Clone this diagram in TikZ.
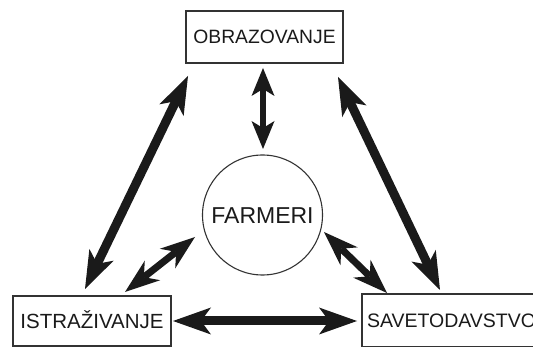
\documentclass[tikz,border=0pt]{standalone}
\usepackage{fontspec}
\setmainfont{Liberation Sans}
\usetikzlibrary{arrows.meta}
\definecolor{ink}{HTML}{1A1A1A}
\definecolor{edge}{HTML}{333333}
\tikzset{
  box/.style={draw=edge, line width=1.3pt, rectangle, inner sep=0pt, outer sep=0pt, text=ink},
  ring/.style={draw=edge, line width=1.1pt, circle, inner sep=0pt, outer sep=0pt, minimum size=120pt, text=ink},
  bigtip/.tip={Stealth[length=38pt,width=27pt,inset=10pt,line width=0pt]},
  smalltip/.tip={Stealth[length=35pt,width=25pt,inset=11pt,line width=0pt]},
  verttip/.tip={Stealth[length=28pt,width=23pt,inset=7pt,line width=0pt]},
  bigarrow/.style={draw=ink, line width=9pt, bigtip-bigtip},
  smallarrow/.style={draw=ink, line width=7pt, smalltip-smalltip},
  vertarrow/.style={draw=ink, line width=6.5pt, verttip-verttip},
}
\begin{document}
\begin{tikzpicture}[x=1pt,y=-1pt]
\useasboundingbox (0,0) rectangle (533,347);
\clip (0,0) rectangle (533,347);
\node[box, minimum width=157pt, minimum height=52pt, text height=13.8pt, text depth=0pt,
      font=\fontsize{19.3}{21}\selectfont] (obr) at (264.5,37) {OBRAZOVANJE};
\node[ring, text height=16.5pt, text depth=0pt,
      font=\fontsize{23}{25}\selectfont] (farm) at (262.5,215) {FARMERI};
\node[box, minimum width=158pt, minimum height=50pt, text height=14.7pt, text depth=0pt,
      font=\fontsize{20.5}{22}\selectfont] (istr) at (92,321) {ISTRAŽIVANJE};
\node[box, anchor=north west, minimum height=53pt, inner xsep=5pt, text height=14pt, text depth=0pt,
      font=\fontsize{19.5}{21}\selectfont] (sav) at (362,294) {SAVETODAVSTVO};

\draw[vertarrow] ([shift={(-1.5,5)}]obr.south) -- ([shift={(0.5,-6)}]farm.north);
\draw[bigarrow] ([shift={(2,13)}]obr.south west) -- ([shift={(72,-7)}]istr.north west);
\draw[bigarrow] ([shift={(-5,14)}]obr.south east) -- ([shift={(78,-4)}]sav.north west);
\draw[bigarrow] ([shift={(2,0)}]istr.east) -- ([shift={(-5,0.5)}]sav.west);
\draw[smallarrow] ([shift={(112,-4)}]istr.north west) -- ([shift={(-67.5,22)}]farm.center);
\draw[smallarrow] ([shift={(61.5,17)}]farm.center) -- ([shift={(25,-1)}]sav.north west);
\end{tikzpicture}
\end{document}
